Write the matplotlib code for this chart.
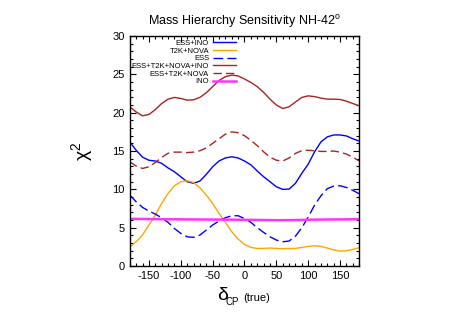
import numpy as np
import matplotlib
matplotlib.use("Agg")
import matplotlib.pyplot as plt
from matplotlib.ticker import MultipleLocator

# delta_CP grid (deg) and chi^2 values
dcp = [-180, -170, -160, -150, -140, -130, -120, -110, -100, -90, -80, -70, -60,
       -50, -40, -30, -20, -10, 0, 10, 20, 30, 40, 50, 60,
       70, 80, 90, 100, 110, 120, 130, 140, 150, 160, 170, 180]

ess_ino = [16.2, 15.1, 14.2, 13.8, 13.7, 13.4, 12.8, 12.3, 11.65, 11.0, 10.8, 11.08, 11.95,
           12.95, 13.7, 14.1, 14.25, 14.1, 13.7, 13.2, 12.4, 11.65, 11.0, 10.34, 10.0,
           10.04, 10.8, 12.1, 13.3, 14.9, 16.2, 16.85, 17.1, 17.1, 16.97, 16.6, 16.3]
t2k_nova = [2.52, 3.17, 4.04, 5.35, 6.65, 8.17, 9.47, 10.47, 11.0, 11.13, 10.9, 10.2, 9.26,
            8.17, 6.87, 5.7, 4.48, 3.52, 2.82, 2.43, 2.3, 2.3, 2.35, 2.3, 2.26,
            2.3, 2.3, 2.43, 2.56, 2.65, 2.56, 2.35, 2.1, 1.95, 2.0, 2.17, 2.39]
ess = [9.26, 8.39, 7.65, 7.17, 6.78, 6.3, 5.7, 4.9, 4.26, 3.82, 3.74, 4.04, 4.69,
       5.35, 5.87, 6.3, 6.56, 6.56, 6.2, 5.7, 5.0, 4.39, 3.82, 3.39, 3.17,
       3.26, 3.91, 5.0, 6.4, 7.95, 9.17, 10.1, 10.43, 10.47, 10.25, 9.87, 9.43]
all_exp = [20.77, 20.1, 19.6, 19.77, 20.4, 21.2, 21.77, 21.99, 21.86, 21.64, 21.68, 22.0, 22.6,
           23.4, 24.2, 24.7, 24.9, 24.8, 24.4, 23.95, 23.4, 22.66, 21.77, 21.0, 20.55,
           20.77, 21.4, 22.0, 22.2, 22.1, 21.9, 21.77, 21.77, 21.73, 21.5, 21.2, 20.9]
ess_t2k_nova = [13.6, 13.04, 12.73, 12.95, 13.5, 14.17, 14.7, 14.86, 14.86, 14.8, 14.86, 15.04, 15.4,
                16.0, 16.6, 17.2, 17.5, 17.4, 17.0, 16.4, 15.7, 14.9, 14.2, 13.8, 13.7,
                14.1, 14.7, 15.04, 15.1, 15.04, 14.95, 14.95, 15.0, 14.86, 14.6, 14.2, 13.7]
ino = [6.15, 6.15, 6.14, 6.13, 6.12, 6.11, 6.1, 6.1, 6.09, 6.08, 6.08, 6.07, 6.07,
       6.06, 6.06, 6.05, 6.05, 6.04, 6.03, 6.02, 6.01, 6.0, 5.99, 5.98, 5.98,
       5.99, 6.0, 6.02, 6.04, 6.05, 6.06, 6.07, 6.08, 6.08, 6.09, 6.1, 6.1]

plt.rcParams['font.family'] = ['Liberation Sans', 'DejaVu Sans']
plt.rcParams['mathtext.fontset'] = 'custom'
plt.rcParams['mathtext.rm'] = 'Liberation Sans'
plt.rcParams['axes.unicode_minus'] = False

fig = plt.figure(figsize=(4.57, 3.19), dpi=100)
ax = fig.add_axes([0.284, 0.166, 0.502, 0.721])

ax.plot(dcp, ess_ino, color='#0000ff', lw=1.0, label='ESS+INO')
ax.plot(dcp, t2k_nova, color='#ffa500', lw=1.0, label='T2K+NOVA')
ax.plot(dcp, ess, color='#0000ff', lw=1.0, dashes=(7, 3), label='ESS')
ax.plot(dcp, all_exp, color='#aa2222', lw=1.0, label='ESS+T2K+NOVA+INO')
ax.plot(dcp, ess_t2k_nova, color='#aa2222', lw=1.0, dashes=(6, 3), label='ESS+T2K+NOVA')
ax.plot(dcp, ino, color='#ff33ff', lw=1.8, label='INO')

ax.set_xlim(-180, 180)
ax.set_ylim(0, 30)
ax.xaxis.set_major_locator(MultipleLocator(50))
ax.xaxis.set_minor_locator(MultipleLocator(10))
ax.yaxis.set_major_locator(MultipleLocator(5))
ax.yaxis.set_minor_locator(MultipleLocator(1))
ax.tick_params(which='both', direction='in', top=True, right=True, labelsize=8, width=0.8)
ax.tick_params(which='major', length=4.5)
ax.tick_params(which='minor', length=2.2)
for s in ax.spines.values():
    s.set_linewidth(1.0)

ax.set_title('Mass Hierarchy Sensitivity NH-42$^{\\mathrm{o}}$', fontsize=9, pad=8)
ax.set_ylabel('\u03c7$^{2}$', fontsize=14, labelpad=12)

# x label: delta with CP subscript, then "(true)"
fig.text(217 / 457, 1 - 300 / 319, '\u03b4', fontsize=14, ha='left', va='baseline')
fig.text(226 / 457, 1 - 305 / 319, 'CP', fontsize=7, ha='left', va='baseline')
fig.text(243 / 457, 1 - 301 / 319, '(true)', fontsize=8, ha='left', va='baseline')

ax.legend(loc='upper right', bbox_to_anchor=(0.462, 0.985), frameon=False, fontsize=5.5,
          markerfirst=False, handlelength=3.0, handletextpad=0.5, labelspacing=0.05,
          borderpad=0, borderaxespad=0)

fig.savefig('out.png', dpi=100)
